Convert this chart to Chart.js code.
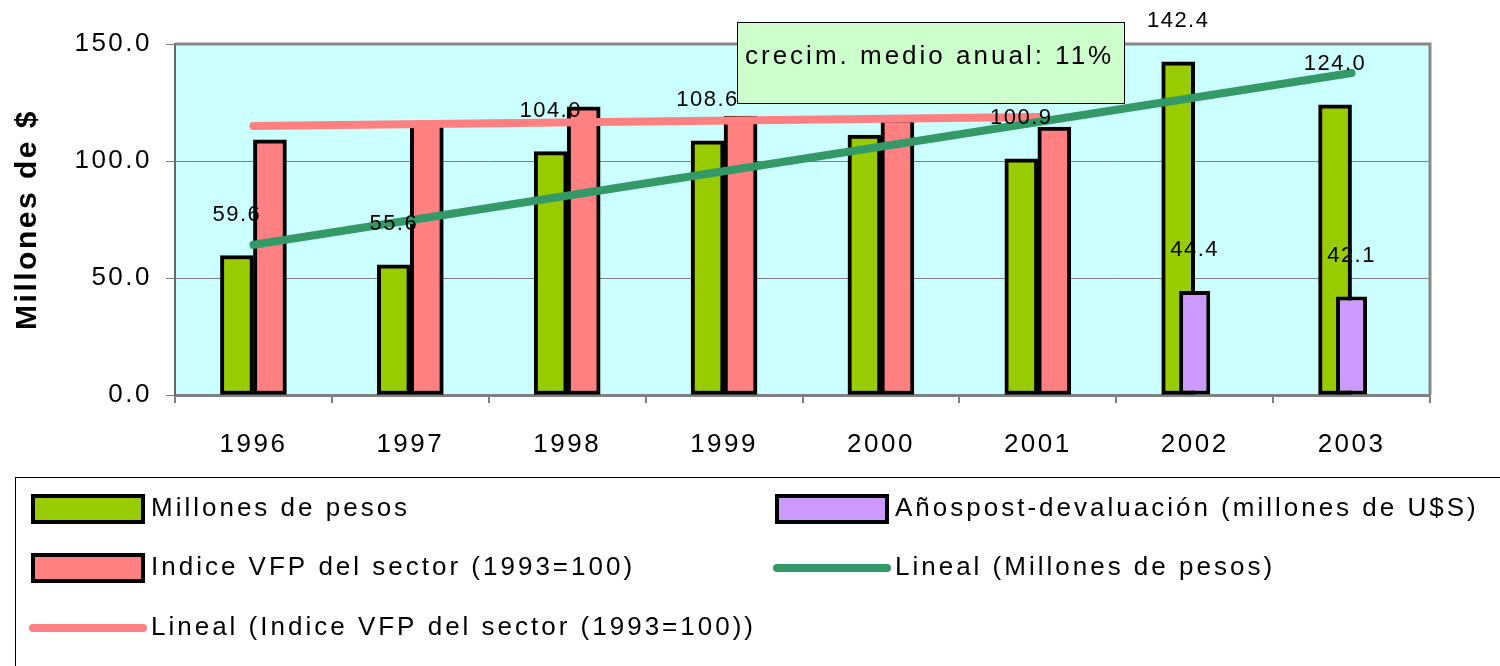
<!DOCTYPE html>
<html>
<head>
<meta charset="utf-8">
<script src="https://cdn.jsdelivr.net/npm/chart.js@4.4.0/dist/chart.umd.min.js"></script>
<style>
  html, body { margin: 0; padding: 0; background: #fff; }
</style>
</head>
<body>
<canvas id="chart" width="1500" height="666"></canvas>
<script>
const years = ["1996", "1997", "1998", "1999", "2000", "2001", "2002", "2003"];
const millonesPesos = [59.6, 55.6, 104.0, 108.6, 111.1, 100.9, 142.4, 124.0];
const indiceVFP = [109.0, 117.1, 123.1, 119.2, 118.0, 114.5, null, null];
const millonesDolares = [null, null, null, null, null, null, 44.4, 42.1];
// trend lines, only the two ends
const trendPesos = [{ x: "1996", y: 64.2 }, { x: "2003", y: 137.6 }];
const trendIndice = [{ x: "1996", y: 115.0 }, { x: "2001", y: 118.8 }];
const yTicks = [0, 50, 100, 150];

const FONT = "'Liberation Sans', Arial, sans-serif";

const plotBox = {
  id: "plotBox",
  beforeDraw(chart) {
    const { ctx, chartArea: a } = chart;
    ctx.save();
    ctx.fillStyle = "#CCFFFF";
    ctx.fillRect(a.left, a.top, a.right - a.left, a.bottom - a.top);
    ctx.restore();
    ctx.letterSpacing = "2.5px";
  },
  beforeDatasetsDraw(chart) {
    const { ctx, chartArea: a } = chart;
    ctx.save();
    ctx.strokeStyle = "#888";
    ctx.lineWidth = 3;
    ctx.beginPath();
    ctx.moveTo(a.left, a.top);
    ctx.lineTo(a.right, a.top);
    ctx.lineTo(a.right, a.bottom);
    ctx.stroke();
    ctx.restore();
  },
  afterDatasetsDraw(chart) {
    const ctx = chart.ctx;
    ctx.save();
    ctx.letterSpacing = "1.5px";
    ctx.font = "22px " + FONT;
    ctx.fillStyle = "#000";
    ctx.textAlign = "center";
    ctx.textBaseline = "middle";
    [0, 2].forEach((di) => {
      const ds = chart.data.datasets[di];
      chart.getDatasetMeta(di).data.forEach((el, i) => {
        const v = ds.data[i];
        if (v == null) return;
        ctx.fillText(v.toFixed(1), el.x, el.y - 41);
      });
    });
    ctx.restore();
  },
  afterDraw(chart) {
    const ctx = chart.ctx;
    const ds = chart.data.datasets;
    ctx.save();
    // note box
    ctx.fillStyle = "#CCFFCC";
    ctx.fillRect(737, 22, 387, 81);
    ctx.strokeStyle = "#000";
    ctx.lineWidth = 1;
    ctx.strokeRect(737.5, 22.5, 387, 81);
    ctx.fillStyle = "#000";
    ctx.letterSpacing = "3px";
    ctx.font = "26px " + FONT;
    ctx.textAlign = "left";
    ctx.textBaseline = "middle";
    ctx.fillText("crecim. medio anual: 11%", 745, 57);

    // legend
    ctx.strokeRect(15.5, 477.5, 1600, 300);
    const slots = [
      { di: 0, x: 33, y: 509 },
      { di: 2, x: 777, y: 509 },
      { di: 1, x: 33, y: 568 },
      { di: 3, x: 777, y: 568 },
      { di: 4, x: 33, y: 628 }
    ];
    ctx.font = "26px " + FONT;
    ctx.letterSpacing = "3px";
    slots.forEach((s) => {
      const d = ds[s.di];
      const w = 110;
      if (d.type === "line") {
        ctx.strokeStyle = d.borderColor;
        ctx.lineWidth = 8;
        ctx.lineCap = "round";
        ctx.beginPath();
        ctx.moveTo(s.x, s.y);
        ctx.lineTo(s.x + w, s.y);
        ctx.stroke();
      } else {
        ctx.fillStyle = d.backgroundColor;
        ctx.fillRect(s.x, s.y - 13, w, 26);
        ctx.strokeStyle = "#000";
        ctx.lineWidth = 4;
        ctx.strokeRect(s.x, s.y - 13, w, 26);
      }
      ctx.fillStyle = "#000";
      ctx.fillText(d.label, s.x + w + 8, s.y);
    });
    ctx.restore();
  }
};

const barCommon = {
  type: "bar",
  borderColor: "#000",
  borderWidth: 4,
  borderSkipped: false,
  order: 2
};

new Chart(document.getElementById("chart"), {
  type: "bar",
  data: {
    labels: years,
    datasets: [
      Object.assign({}, barCommon, {
        label: "Millones de pesos",
        data: millonesPesos,
        backgroundColor: "#99CC00",
        barThickness: 33
      }),
      Object.assign({}, barCommon, {
        label: "Indice VFP del sector (1993=100)",
        data: indiceVFP,
        backgroundColor: "#FF8080",
        barThickness: 33
      }),
      Object.assign({}, barCommon, {
        label: "Añospost-devaluación (millones de U$S)",
        data: millonesDolares,
        backgroundColor: "#CC99FF",
        grouped: false,
        categoryPercentage: 1,
        barPercentage: 0.198,
        order: 1
      }),
      {
        type: "line",
        label: "Lineal (Millones de pesos)",
        data: trendPesos,
        borderColor: "#339966",
        borderWidth: 8,
        borderCapStyle: "round",
        pointRadius: 0,
        order: 0
      },
      {
        type: "line",
        label: "Lineal (Indice VFP del sector (1993=100))",
        data: trendIndice,
        borderColor: "#FF8080",
        borderWidth: 8,
        borderCapStyle: "round",
        pointRadius: 0,
        order: 0
      }
    ]
  },
  options: {
    responsive: false,
    devicePixelRatio: 1,
    animation: false,
    layout: { padding: { left: 0, right: 70, top: 44, bottom: 0 } },
    plugins: {
      legend: { display: false },
      tooltip: { enabled: false }
    },
    scales: {
      x: {
        type: "category",
        offset: true,
        afterFit: (s) => { s.height = 271; },
        grid: { offset: true, drawOnChartArea: false, tickLength: 8, color: "#808080", lineWidth: 2 },
        border: { color: "#808080", width: 3 },
        ticks: { color: "#000", padding: 26, font: { family: FONT, size: 26 } }
      },
      y: {
        min: 0,
        max: 150,
        afterFit: (s) => { s.width = 175; },
        afterBuildTicks: (s) => { s.ticks = yTicks.map((v) => ({ value: v })); },
        grid: { color: "#808080", lineWidth: 1, tickLength: 9 },
        border: { color: "#666", width: 2 },
        ticks: {
          color: "#000",
          padding: 14,
          font: { family: FONT, size: 26 },
          callback: (v) => Number(v).toFixed(1)
        },
        title: {
          display: true,
          text: "Millones de $",
          color: "#000",
          font: { family: FONT, size: 30, weight: "bold" },
          padding: { top: 10, bottom: 0 }
        }
      }
    }
  },
  plugins: [plotBox]
});
</script>
</body>
</html>
